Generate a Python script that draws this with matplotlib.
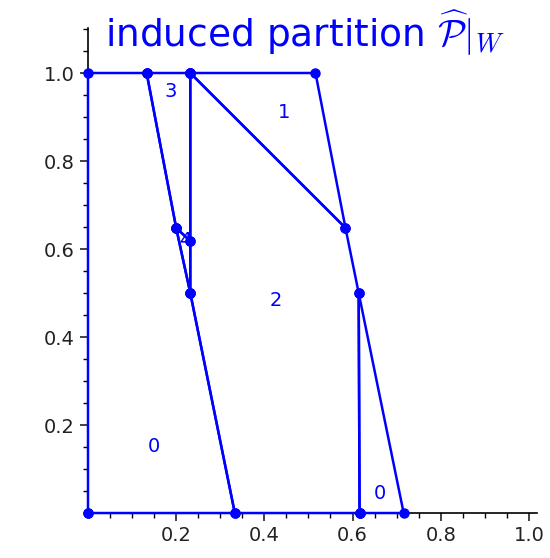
import matplotlib
matplotlib.use('Agg')
import matplotlib.pyplot as plt
from matplotlib.ticker import MultipleLocator

plt.rcParams['mathtext.fontset'] = 'cm'

# region polygons
region0a = [(0, 0), (0, 1), (0.133, 1), (0.2, 0.648), (0.232, 0.5), (0.333, 0)]
region0b = [(0.616, 0), (0.614, 0.5), (0.716, 0)]
region1 = [(0.232, 1), (0.516, 1), (0.584, 0.648)]
region2 = [(0.232, 1), (0.584, 0.648), (0.614, 0.5), (0.616, 0), (0.333, 0), (0.232, 0.5)]
region3 = [(0.133, 1), (0.232, 1), (0.232, 0.618), (0.2, 0.648)]
region4 = [(0.2, 0.648), (0.232, 0.618), (0.232, 0.5)]
regions = [region0a, region0b, region1, region2, region3, region4]

label_text = ['0', '0', '1', '2', '3', '4']
label_x = [0.149, 0.661, 0.444, 0.425, 0.188, 0.221]
label_y = [0.152, 0.045, 0.911, 0.482, 0.957, 0.62]

blue = '#0000ff'

fig = plt.figure(figsize=(5.5, 5.58), dpi=100)
ax = fig.add_axes([0.16, 0.0806, 0.816, 0.869])

for poly in regions:
    xs = [p[0] for p in poly] + [poly[0][0]]
    ys = [p[1] for p in poly] + [poly[0][1]]
    ax.plot(xs, ys, color=blue, lw=1.8, marker='o', ms=6.5, clip_on=False, zorder=3)

for t, x, y in zip(label_text, label_x, label_y):
    ax.text(x, y, t, color=blue, fontsize=14, ha='center', va='center', zorder=4)

ax.set_xlim(0, 1.018)
ax.set_ylim(0, 1.102)
ax.spines['top'].set_visible(False)
ax.spines['right'].set_visible(False)
for s in ['left', 'bottom']:
    ax.spines[s].set_linewidth(1.2)
    ax.spines[s].set_zorder(2)

ax.xaxis.set_minor_locator(MultipleLocator(0.05))
ax.yaxis.set_minor_locator(MultipleLocator(0.05))
ax.set_xticks([0.2, 0.4, 0.6, 0.8, 1.0])
ax.set_yticks([0.2, 0.4, 0.6, 0.8, 1.0])
ax.tick_params(which='major', length=6, width=1.2, labelsize=14, colors='#222222')
ax.tick_params(which='minor', length=3.5, width=1)

fig.text(0.555, 0.915, r'induced partition $\widehat{\mathcal{P}}|_W$', color=blue,
         fontsize=27, ha='center', va='baseline')

fig.savefig('out.png', dpi=100)
